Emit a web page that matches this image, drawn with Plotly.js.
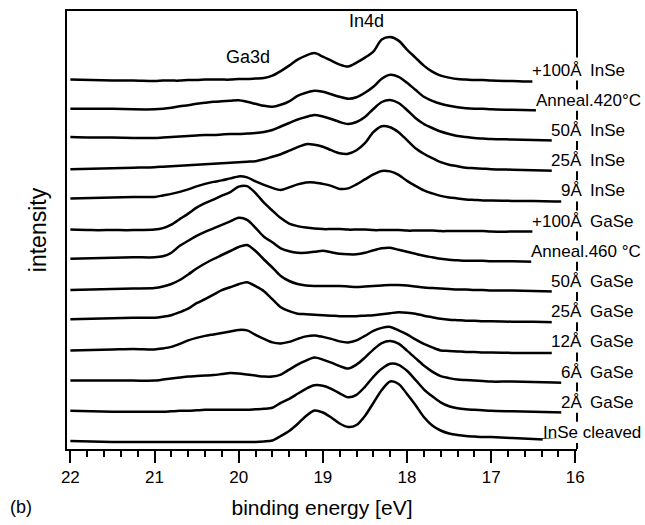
<!DOCTYPE html>
<html>
<head>
<meta charset="utf-8">
<script src="https://cdn.plot.ly/plotly-3.0.1.min.js"></script>
<style>html,body{margin:0;padding:0;background:#fff;}#chart{width:645px;height:525px;}</style>
</head>
<body>
<div id="chart"></div>
<script>
// Binding energy grid [eV]
const energy = [22.0, 21.75, 21.5, 21.25, 21.0, 20.9, 20.8, 20.7, 20.6, 20.5, 20.4, 20.3, 20.2, 20.1, 20.0,
  19.9, 19.8, 19.7, 19.6, 19.5, 19.4, 19.3, 19.2, 19.1, 19.0, 18.9, 18.8, 18.7, 18.6, 18.5, 18.4, 18.3, 18.2, 18.1, 18.0,
  17.9, 17.8, 17.7, 17.6, 17.5, 17.4, 17.3, 17.2, 17.1, 17.0, 16.75, 16.5, 16.25, 16.0];

// Spectrum labels, bottom to top
const labels = ["InSe cleaved", "2Å GaSe", "6Å GaSe", "12Å GaSe", "25Å GaSe", "50Å GaSe",
  "Anneal.460 °C", "+100Å GaSe", "9Å InSe", "25Å InSe", "50Å InSe", "Anneal.420°C", "+100Å InSe"];

// Intensities (arb. units) for each spectrum, bottom to top
const inseCleaved = [2,1.5,1,1,1,1,1,1,1,1,1,1,1,1,1, 1,1,1.5,2.5,7,12,19,27,32.5,30.5,25.5,19.5,16,18,27,40,53,61.5,59,49, 38,26,17.5,12.5,9.5,8,7,6.5,6,6,5,4,3,2];
const gase2 = [2,1.5,1,1,1,1,1.5,2,2,2.5,3,3,3,3,3, 3,3.5,4,5,10,14,19,24,27.5,27,24,19.5,15.5,18,26,36,44,49,48,42, 33,23.5,16.5,10.5,6.5,4.5,3.5,3,2.5,2,1.5,1,0.5,0];
const gase6 = [2,2,2,2,2,3,4,5,6,6.5,7,7.5,8.5,9.5,9, 8,7,6,6,8,13,18,22,25,23,20,16.5,14,18,25,33,39.5,41.5,39,32, 24.5,17,11,6.5,4.5,3,2.5,2,1.5,1,1,0.5,0,0];
const gase12 = [2,2.5,3,3.5,3,4,5.5,8.5,12,14.5,16.5,18,19.5,21,22.5, 22,17.5,13.5,10,9,10.5,13.5,16,17,15.5,13.5,11,10,12,16.5,21.5,24.5,25.5,22,18, 13,8.5,5,2,1.5,1,0.5,0.5,0,0,-0.5,-0.5,-0.5,-0.5];
const gase25 = [3,3.5,4,4.5,4.5,5.5,7,10,13.5,19,23,27.5,32,35,38, 40,36,31,23,15,11,8.5,8,7.5,7,6.5,6,6,6,6.5,7,8,9,10,9.5, 8.5,6.5,5,3.5,2.5,2,1.5,1.5,1,1,0.5,0.5,0,0];
const gase50 = [2,2.5,3,3.5,4,5.5,8,12,17.5,23.5,28.5,33,37,41,45, 47,41,32.5,24.5,16,11,8,6.5,6,6,6,6,5.5,5,5.5,6,6.5,7,7,6.5, 5.5,4.5,4,3.5,3,2.5,2.5,2,2,1.5,1.5,1,0.5,0];
const anneal460 = [3,3.5,4,4.5,4.5,5.5,9,16,21,26,30,33.5,37,40.5,44, 42,34,25,19.5,13.5,10.5,9,9,10,11,9.5,8,7.5,7.5,9,11.5,13.5,14,12,10, 8,6,4.5,3,2,1.5,1,1,1,0.5,0.5,0,0,0];
const gase100 = [2,1.5,1.5,1.5,2,3.5,7,12.5,18,24,28.5,32,36,39.5,45, 45.5,38.5,29,21,13.5,8,5.5,4,3,2.5,2.5,2.5,2,2,2,1.5,1.5,1.5,1.5,1, 1,1,1,0.5,0.5,0.5,0.5,0.5,0.5,0,0,0,-0.5,-0.5];
const inse9 = [3,3.5,4,4.5,4.5,6,7.5,9.5,12,15,17.5,19.5,21,23,25, 24,20,16.5,13.5,11.5,14,17,19,19,17.5,15.5,12.5,13,17,22,27,30.5,30,26.5,20.5, 15.5,11,8,5.5,4,3,2,1.5,1,1,0.5,0.5,0,0];
const inse25 = [2,2.5,3,3.5,4,4.5,5,5.5,6,6.5,7,7.5,8,8.5,9, 9.5,10,12,14.5,17,20.5,24,27,26.5,24.5,21,18,17.5,21,28,39,45,44,39,31, 23,17.5,13,9,6.5,5,3.5,3,2.5,2,1.5,1,0.5,0];
const inse50 = [4,3.5,3.5,3,3,3.5,4,4.5,5,5.5,6,6,6.5,7,7, 7.5,8,9,11,14.5,18,21.5,24,26,24.5,22,19,17,19,24,32,39,41,38,31, 23,17,13,9.5,7,5,4,3,2.5,2,1.5,1,0.5,0];
const anneal420 = [2,2,2,1.5,1.5,2,3,4.5,5.5,7,8,9,9.5,10,10.5, 9,7,5,4,6,9.5,15,18,20,19,16.5,14,12,13.5,18,24,32,36,34,28, 21,14,10,7,5,3.5,2.5,2,2,1.5,1,0.5,0,0];
const inse100 = [1,0.5,0,0,-0.5,0,0,0,0.5,0.5,1,1,1,1,1.5, 1.5,2,2.5,5,9.5,15,21,25,27.5,24,20,16,14,18,23,29,41,43.5,40,31, 23,15,9,5,3,1.5,1,0.5,0.5,0,-0.5,-1,-0.5,0];

const spectra = [inseCleaved, gase2, gase6, gase12, gase25, gase50, anneal460, gase100, inse9, inse25, inse50, anneal420, inse100];

const FONT = "Liberation Sans, Arial, Helvetica, sans-serif";
const LABEL_SIZE = 17;
const step = 30.2, base = 6;

const traces = spectra.map((s, i) => ({
  x: energy,
  y: s.map(v => v + base + step * i),
  type: "scatter",
  mode: "lines",
  name: labels[i],
  line: {color: "#000", width: 2.5, shape: "spline", smoothing: 0.8},
  hoverinfo: "name+x"
}));

// pixel helpers for placing decorations (plot area: x 67..577, y 11..449)
const pxX = px => (px - 67) / 510;
const pxY = py => (449 - py) / 438;

const ctx = document.createElement("canvas").getContext("2d");
ctx.font = LABEL_SIZE + "px 'Liberation Sans', Arial, sans-serif";
const textW = t => ctx.measureText(t).width;

const annotations = [];
const shapes = [];
labels.forEach((lab, i) => {
  const yv = base + step * i;
  const k = lab.indexOf("Å");
  const common = {xref: "paper", yref: "y", y: yv, yanchor: "bottom", yshift: -1, showarrow: false,
    font: {family: FONT, size: LABEL_SIZE, color: "#000"}};
  let left;
  if (k >= 0) {
    const pre = lab.slice(0, k + 1);
    annotations.push(Object.assign({}, common, {x: pxX(584), xanchor: "right", text: pre}));
    annotations.push(Object.assign({}, common, {x: pxX(588), xanchor: "left", text: lab.slice(k + 1).trim()}));
    left = 584 - textW(pre);
  } else {
    annotations.push(Object.assign({}, common, {x: pxX(643), xanchor: "right", text: lab}));
    left = 643 - textW(lab);
  }
  // hide the curve end under the label
  shapes.push({type: "rect", layer: "above", xref: "paper", yref: "y",
    x0: pxX(left - 2), x1: pxX(579), y0: yv - 3.5, y1: yv + 4, fillcolor: "#fff", line: {width: 0}});
});
// right frame: broken by the labels
const topY = base + step * (labels.length - 1);
const seg = (y0, y1) => shapes.push({type: "line", layer: "above", xref: "paper", yref: "y",
  x0: 1, x1: 1, y0: y0, y1: y1, line: {color: "#000", width: 2}});
seg(438, topY + 23);
labels.forEach((lab, i) => {
  const yv = base + step * i;
  if (i === 0) seg(yv, 0); else seg(yv, yv - 9);
});

annotations.push({xref: "paper", yref: "paper", x: pxX(248), y: pxY(57), xanchor: "center", yanchor: "middle",
  text: "Ga3d", showarrow: false, font: {family: FONT, size: 18, color: "#000"}});
annotations.push({xref: "paper", yref: "paper", x: pxX(366), y: pxY(21), xanchor: "center", yanchor: "middle",
  text: "In4d", showarrow: false, font: {family: FONT, size: 18, color: "#000"}});
annotations.push({xref: "paper", yref: "paper", x: pxX(21), y: pxY(507), xanchor: "center", yanchor: "middle",
  text: "(b)", showarrow: false, font: {family: FONT, size: 18, color: "#000"}});

const layout = {
  width: 645, height: 525,
  margin: {l: 67, r: 68, t: 11, b: 76},
  paper_bgcolor: "#fff", plot_bgcolor: "#fff",
  showlegend: false,
  font: {family: FONT, color: "#000"},
  xaxis: {
    range: [22.04, 15.98],
    tickvals: [22, 21, 20, 19, 18, 17, 16],
    ticks: "outside", ticklen: 12, tickwidth: 2, tickcolor: "#000",
    minor: {dtick: 0.2, tick0: 16, ticks: "outside", ticklen: 6, tickwidth: 2, tickcolor: "#000", showgrid: false},
    showline: true, linewidth: 2, linecolor: "#000", mirror: true,
    showgrid: false, zeroline: false,
    tickfont: {family: FONT, size: 17, color: "#000"},
    title: {text: "binding energy [eV]", font: {family: FONT, size: 21, color: "#000"}, standoff: 14}
  },
  yaxis: {
    range: [0, 438],
    showline: true, linewidth: 2, linecolor: "#000", mirror: false,
    showticklabels: false, ticks: "", showgrid: false, zeroline: false,
    title: {text: "intensity", font: {family: FONT, size: 23, color: "#000"}, standoff: 12}
  },
  shapes: shapes,
  annotations: annotations
};

Plotly.newPlot("chart", traces, layout, {displayModeBar: false, staticPlot: true});
</script>
</body>
</html>
